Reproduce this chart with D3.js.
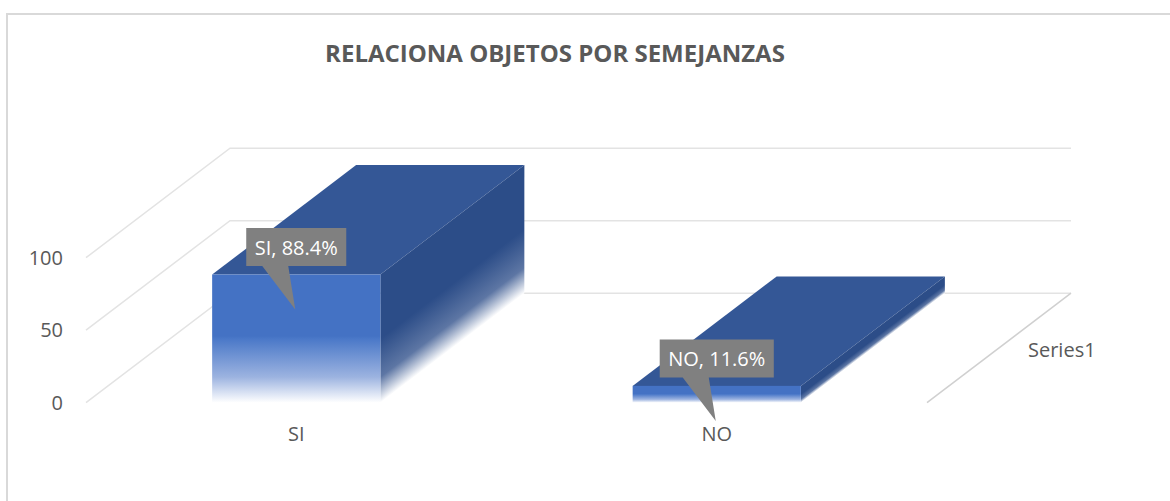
<!DOCTYPE html>
<html>
<head>
  <meta charset="UTF-8">
  <title>Relaciona objetos por semejanzas</title>
  <script src="https://d3js.org/d3.v7.min.js"></script>
  <style>
    body { margin: 0; background: #fff; }
    svg { display: block; font-family: "Open Sans", sans-serif; }
    .tick-label { font-size: 20px; fill: #595959; }
    .grid { stroke: #e3e3e3; stroke-width: 1.5; fill: none; }
  </style>
</head>
<body>
  <svg width="1170" height="501"></svg>

  <script>
    const categories = ["SI", "NO"];
    const values = [88.4, 11.6];
    const labels = ["SI, 88.4%", "NO, 11.6%"];
    const yTicks = [0, 50, 100];
    const seriesName = "Series1";
    const title = "RELACIONA OBJETOS POR SEMEJANZAS";

    const svg = d3.select("svg");

    // depth offset of the 3d box (front -> back)
    const depth = { dx: 144, dy: -109.5 };

    const xScale = d3.scaleBand()
      .domain(categories)
      .range([86, 927])
      .paddingInner(0.6)
      .paddingOuter(0.3);

    const yScale = d3.scaleLinear()
      .domain([0, 100])
      .range([402.7, 257.7]);

    // chart border
    svg.append("rect")
      .attr("x", 7).attr("y", 14)
      .attr("width", 1200).attr("height", 520)
      .attr("fill", "none")
      .attr("stroke", "#d9d9d9")
      .attr("stroke-width", 2);

    svg.append("text")
      .attr("x", 555).attr("y", 62)
      .attr("text-anchor", "middle")
      .attr("font-size", 24)
      .attr("font-weight", "bold")
      .attr("fill", "#595959")
      .text(title);

    const x0 = xScale.range()[0];
    const x1 = xScale.range()[1];

    // side wall and back wall gridlines
    const grid = svg.append("g");
    yTicks.forEach(t => {
      const y = yScale(t);
      grid.append("polyline")
        .attr("class", "grid")
        .attr("points", [[x0, y], [x0 + depth.dx, y + depth.dy], [x1 + depth.dx, y + depth.dy]].join(" "));
    });

    // depth axis line on the right of the floor
    svg.append("line")
      .attr("x1", x1).attr("y1", yScale(0))
      .attr("x2", x1 + depth.dx).attr("y2", yScale(0) + depth.dy)
      .attr("stroke", "#d0d0d0")
      .attr("stroke-width", 1.5);

    svg.append("text")
      .attr("class", "tick-label")
      .attr("x", x1 + depth.dx / 2 + 29)
      .attr("y", yScale(0) + depth.dy / 2 + 9)
      .text(seriesName);

    // y tick labels
    svg.append("g").selectAll("text")
      .data(yTicks)
      .join("text")
      .attr("class", "tick-label")
      .attr("x", 63)
      .attr("y", d => yScale(d) + 7)
      .attr("text-anchor", "end")
      .text(d => d);

    // category labels
    svg.append("g").selectAll("text")
      .data(categories)
      .join("text")
      .attr("class", "tick-label")
      .attr("x", d => xScale(d) + xScale.bandwidth() / 2)
      .attr("y", 441)
      .attr("text-anchor", "middle")
      .text(d => d);

    const defs = svg.append("defs");

    const frontGrad = defs.append("linearGradient")
      .attr("id", "frontGrad")
      .attr("x1", 0).attr("y1", 0).attr("x2", 0).attr("y2", 1);
    frontGrad.append("stop").attr("offset", 0).attr("stop-color", "#4472c4");
    frontGrad.append("stop").attr("offset", 0.48).attr("stop-color", "#4472c4");
    frontGrad.append("stop").attr("offset", 0.5).attr("stop-color", "#4a78c8");
    frontGrad.append("stop").attr("offset", 0.8).attr("stop-color", "#9cb3e0");
    frontGrad.append("stop").attr("offset", 1).attr("stop-color", "#ffffff");

    const bars = svg.append("g");

    values.forEach((v, i) => {
      const xl = xScale(categories[i]);
      const xr = xl + xScale.bandwidth();
      const yTop = yScale(v);
      const yBot = yScale(0);
      const h = yBot - yTop;

      // top face
      bars.append("polygon")
        .attr("points", [[xl, yTop], [xl + depth.dx, yTop + depth.dy],
          [xr + depth.dx, yTop + depth.dy], [xr, yTop]].join(" "))
        .attr("fill", "#345796");

      // side face gradient, isolines parallel to the depth direction
      const k = h * depth.dx / (depth.dx * depth.dx + depth.dy * depth.dy);
      const sg = defs.append("linearGradient")
        .attr("id", "sideGrad" + i)
        .attr("gradientUnits", "userSpaceOnUse")
        .attr("x1", xr).attr("y1", yTop)
        .attr("x2", xr - depth.dy * k).attr("y2", yTop + depth.dx * k);
      sg.append("stop").attr("offset", 0).attr("stop-color", "#2c4d88");
      sg.append("stop").attr("offset", 0.5).attr("stop-color", "#2c4d88");
      sg.append("stop").attr("offset", 0.8).attr("stop-color", "#5d76a4");
      sg.append("stop").attr("offset", 1).attr("stop-color", "#ffffff");

      bars.append("polygon")
        .attr("points", [[xr, yTop], [xr + depth.dx, yTop + depth.dy],
          [xr + depth.dx, yBot + depth.dy], [xr, yBot]].join(" "))
        .attr("fill", `url(#sideGrad${i})`);

      // front face
      bars.append("rect")
        .attr("x", xl).attr("y", yTop)
        .attr("width", xr - xl).attr("height", h)
        .attr("fill", "url(#frontGrad)");
    });

    // data label callouts
    const callouts = svg.append("g");
    values.forEach((v, i) => {
      const cx = xScale(categories[i]) + xScale.bandwidth() / 2;
      const yTop = yScale(v);
      const g = callouts.append("g");
      const boxBottom = yTop - 8.5;
      const boxTop = boxBottom - 38;
      const txt = g.append("text")
        .attr("x", cx)
        .attr("y", boxBottom - 11)
        .attr("text-anchor", "middle")
        .attr("font-size", 20)
        .attr("fill", "#ffffff")
        .text(labels[i]);
      const w = txt.node().getComputedTextLength() + 17;
      g.insert("path", "text")
        .attr("d", `M${cx - w / 2},${boxTop}H${cx + w / 2}V${boxBottom}H${cx - 8}` +
          `L${cx - 1},${yTop + 35}L${cx - 34},${boxBottom}H${cx - w / 2}Z`)
        .attr("fill", "#808080");
    });
  </script>
</body>
</html>
